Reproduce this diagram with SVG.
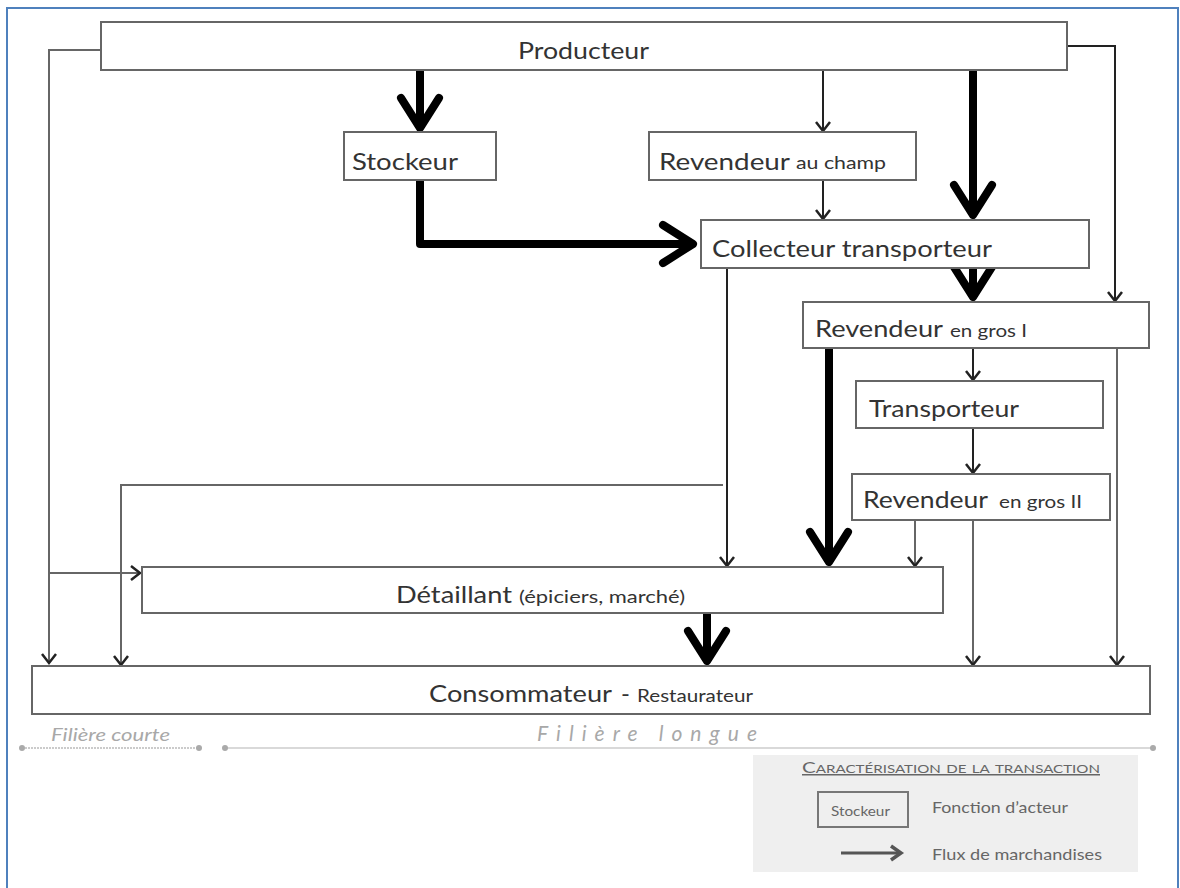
<svg xmlns="http://www.w3.org/2000/svg" width="1180" height="888" viewBox="0 0 1180 888">
<style>
.box{fill:#fff;stroke:#666;stroke-width:2}
.lbl{font-family:Lato,"Open Sans","Liberation Sans",sans-serif;font-size:24px;fill:#333}
.sm{font-family:Lato,"Open Sans","Liberation Sans",sans-serif;font-size:17px;fill:#333}
.thick{fill:none;stroke:#000;stroke-width:8;stroke-linejoin:round}
.thin{fill:none;stroke:#222;stroke-width:2}
.grey{fill:none;stroke:#666;stroke-width:2}
.fil{font-family:Lato,"Open Sans","Liberation Sans",sans-serif;font-style:italic;fill:#a8a8a8}
.leg{font-family:Lato,"Open Sans","Liberation Sans",sans-serif;fill:#666}
</style>
<defs>
<marker id="hk" markerUnits="userSpaceOnUse" orient="auto" refX="0" refY="0" markerWidth="1" markerHeight="1" overflow="visible">
<path d="M-30,-19 L0,0 L-30,19" fill="none" stroke="#000" stroke-width="8" stroke-linejoin="round" stroke-linecap="round"/>
</marker>
<marker id="ht" markerUnits="userSpaceOnUse" orient="auto" refX="0" refY="0" markerWidth="1" markerHeight="1" overflow="visible">
<path d="M-9,-7 L0,0 L-9,7" fill="none" stroke="#222" stroke-width="2.5"/>
</marker>
<marker id="hl" markerUnits="userSpaceOnUse" orient="auto" refX="0" refY="0" markerWidth="1" markerHeight="1" overflow="visible">
<path d="M-10,-7 L0,0 L-10,7" fill="none" stroke="#555" stroke-width="3.5"/>
</marker>
</defs>
<rect width="1180" height="888" fill="#fff"/>
<path d="M7,888 V8 H1178 V888" fill="none" stroke="#4f81bd" stroke-width="2"/>

<g id="connectors">
<path class="thick" d="M420,70 V128" marker-end="url(#hk)"/>
<path class="thin" d="M823,70 V131" marker-end="url(#ht)"/>
<path class="thin" d="M823,180 V219" marker-end="url(#ht)"/>
<path class="thick" d="M973,70 V215" marker-end="url(#hk)"/>
<path class="thick" d="M420,180 V244 H693" marker-end="url(#hk)"/>
<path class="thick" d="M973,264 V297" marker-end="url(#hk)"/>
<path class="thin" d="M973,348 V380" marker-end="url(#ht)"/>
<path class="thin" d="M973,428 V473" marker-end="url(#ht)"/>
<path class="thin" d="M1067,46 H1115 V301" marker-end="url(#ht)"/>
<path class="grey" d="M1117,348 V665" marker-end="url(#ht)"/>
<path class="grey" d="M973,520 V665" marker-end="url(#ht)"/>
<path class="grey" d="M915,520 V566" marker-end="url(#ht)"/>
<path class="thick" d="M829,348 V562" marker-end="url(#hk)"/>
<path class="thin" d="M727,268 V566" marker-end="url(#ht)"/>
<path class="grey" d="M723,485 H121 V665" marker-end="url(#ht)"/>
<path class="grey" d="M101,50 H49 V663" marker-end="url(#ht)"/>
<path class="grey" d="M49,573 H140" marker-end="url(#ht)"/>
<path class="thick" d="M707,613 V661" marker-end="url(#hk)"/>
</g>

<g id="producteur"><rect class="box" x="101" y="22" width="966" height="48"/><text class="lbl" x="518" y="59" textLength="131" lengthAdjust="spacingAndGlyphs">Producteur</text></g>
<g id="stockeur"><rect class="box" x="344" y="132" width="152" height="48"/><text class="lbl" x="352" y="170" textLength="106" lengthAdjust="spacingAndGlyphs">Stockeur</text></g>
<g id="revendeur-champ"><rect class="box" x="649" y="132" width="267" height="48"/><text class="lbl" x="659" y="170" textLength="131" lengthAdjust="spacingAndGlyphs">Revendeur</text><text class="sm" x="796" y="169" textLength="90" lengthAdjust="spacingAndGlyphs">au champ</text></g>
<g id="collecteur"><rect class="box" x="701" y="220" width="388" height="48"/><text class="lbl" x="712" y="257" textLength="280" lengthAdjust="spacingAndGlyphs">Collecteur transporteur</text></g>
<g id="revendeur-gros-1"><rect class="box" x="803" y="302" width="346" height="46"/><text class="lbl" x="815" y="337" textLength="128" lengthAdjust="spacingAndGlyphs">Revendeur</text><text class="sm" x="950" y="337" textLength="77" lengthAdjust="spacingAndGlyphs">en gros I</text></g>
<g id="transporteur"><rect class="box" x="856" y="381" width="247" height="47"/><text class="lbl" x="869" y="417" textLength="150" lengthAdjust="spacingAndGlyphs">Transporteur</text></g>
<g id="revendeur-gros-2"><rect class="box" x="852" y="474" width="258" height="46"/><text class="lbl" x="863" y="508" textLength="125" lengthAdjust="spacingAndGlyphs">Revendeur</text><text class="sm" x="999" y="508" textLength="83" lengthAdjust="spacingAndGlyphs">en gros II</text></g>
<g id="detaillant"><rect class="box" x="142" y="567" width="801" height="46"/><text class="lbl" x="396" y="603" textLength="116" lengthAdjust="spacingAndGlyphs">Détaillant</text><text class="sm" x="519" y="603" textLength="166" lengthAdjust="spacingAndGlyphs">(épiciers, marché)</text></g>
<g id="consommateur"><rect class="box" x="32" y="666" width="1118" height="48"/><text class="lbl" x="429" y="702" textLength="183" lengthAdjust="spacingAndGlyphs">Consommateur</text><text class="lbl" x="621" y="702">-</text><text class="sm" x="637" y="702" textLength="116" lengthAdjust="spacingAndGlyphs">Restaurateur</text></g>

<g id="filiere-courte">
<text class="fil" x="51" y="741" font-size="18" textLength="119" lengthAdjust="spacingAndGlyphs">Filière courte</text>
<path d="M22,748 H199" stroke="#bbb" stroke-width="1.5" stroke-dasharray="2,1"/>
<circle cx="22" cy="748" r="3" fill="#aaa"/><circle cx="199" cy="748" r="3" fill="#aaa"/>
</g>
<g id="filiere-longue">
<text class="fil" x="537" y="741" font-size="21" textLength="220" lengthAdjust="spacing">Filière longue</text>
<path d="M225,748 H1153" stroke="#ccc" stroke-width="1.5"/>
<circle cx="225" cy="748" r="3" fill="#aaa"/><circle cx="1153" cy="748" r="3" fill="#aaa"/>
</g>

<g id="legende">
<rect x="753" y="755" width="385" height="117" fill="#efefef"/>
<text class="leg" x="802" y="773" font-size="15" font-variant="small-caps" text-decoration="underline" textLength="298" lengthAdjust="spacingAndGlyphs">Caractérisation de la transaction</text>
<rect x="818" y="792" width="90" height="35" fill="#efefef" stroke="#777" stroke-width="2"/>
<text class="leg" x="831" y="816" font-size="14" textLength="59" lengthAdjust="spacingAndGlyphs">Stockeur</text>
<text class="leg" x="932" y="813" font-size="16" textLength="136" lengthAdjust="spacingAndGlyphs">Fonction d’acteur</text>
<path d="M841,853 H901" stroke="#555" stroke-width="3" fill="none" marker-end="url(#hl)"/>
<text class="leg" x="932" y="860" font-size="16" textLength="170" lengthAdjust="spacingAndGlyphs">Flux de marchandises</text>
</g>
</svg>
